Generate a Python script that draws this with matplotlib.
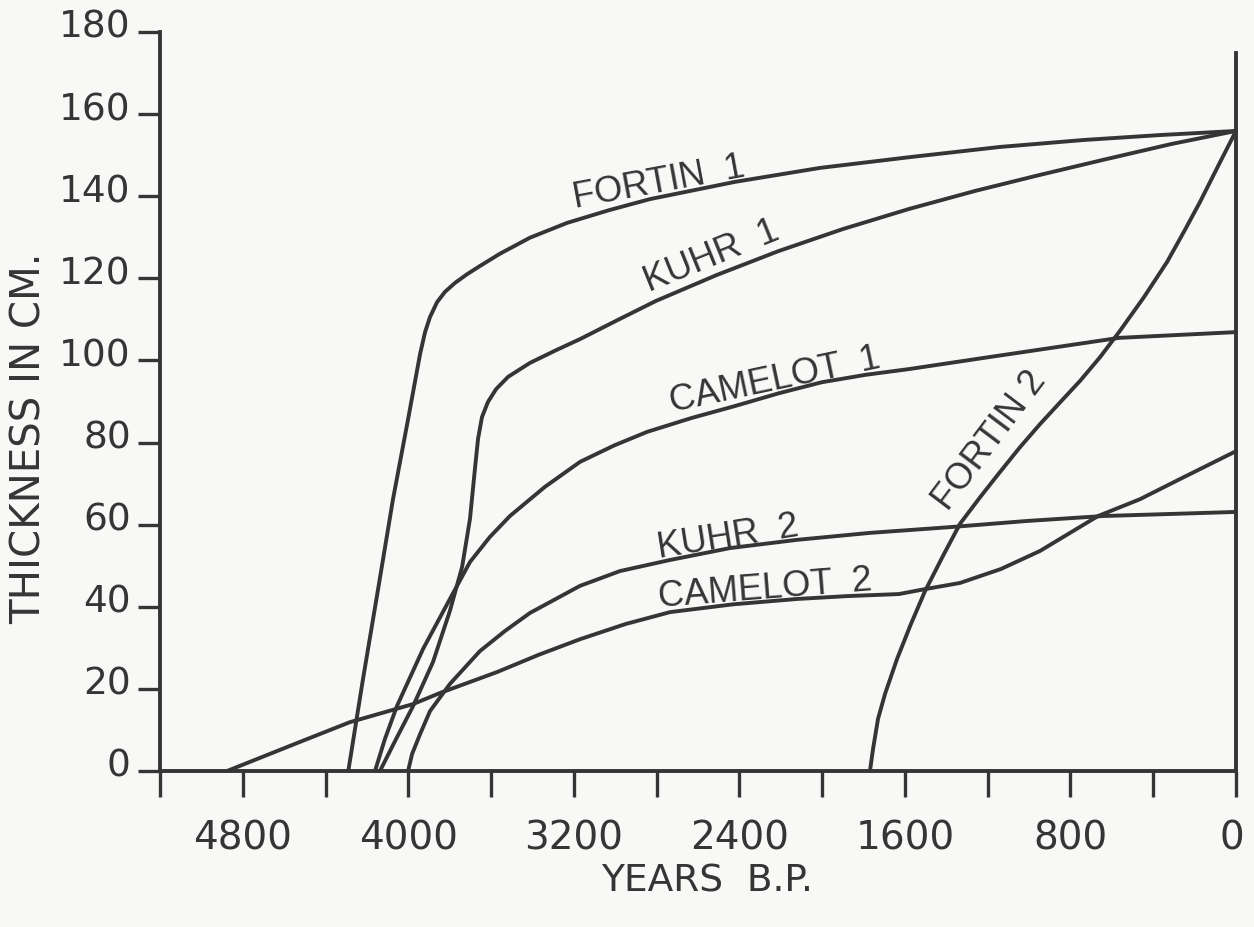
import matplotlib
matplotlib.use("Agg")
import matplotlib.pyplot as plt
import matplotlib.transforms as mtransforms

# thickness (cm) against years B.P.
fortin1_x = [4290, 4219, 4146, 4074, 4001, 3943, 3919, 3895, 3861, 3823, 3774, 3716, 3654, 3557, 3412,
             3233, 3030, 2832, 2421, 2010, 1580, 1141, 735, 367, 0]
fortin1_y = [0, 22.4, 44.3, 66.2, 85.7, 101.6, 106.9, 110.6, 114.2, 116.7, 118.9, 121.0, 123.0, 126.0,
             129.9, 133.5, 136.6, 139.3, 143.5, 146.9, 149.5, 152.0, 153.7, 154.9, 155.9]

kuhr1_x = [4137, 4059, 3977, 3881, 3799, 3740, 3702, 3678, 3663, 3644, 3615, 3576, 3518, 3412,
           3290, 3170, 2990, 2803, 2510, 2213, 1900, 1580, 1260, 947, 630, 314, 0]
kuhr1_y = [0, 7.8, 15.8, 26.5, 39.0, 49.7, 61.4, 73.6, 80.9, 86.2, 89.9, 93.0, 96.0, 99.4,
           102.4, 105.2, 109.8, 114.5, 120.8, 126.6, 132.0, 136.9, 141.3, 145.2, 149.0, 152.7, 155.9]

camelot1_x = [4161, 4113, 4055, 3929, 3799, 3702, 3606, 3509, 3340, 3170, 3005, 2846, 2630, 2421,
              2210, 2001, 1790, 1580, 1155, 565, 0]
camelot1_y = [0, 7.8, 15.8, 29.7, 41.9, 50.9, 57.0, 62.1, 69.2, 75.3, 79.3, 82.6, 86.0, 88.9,
              92.0, 94.7, 96.5, 97.9, 101.1, 105.5, 106.9]

kuhr2_x = [4001, 3982, 3943, 3895, 3799, 3654, 3533, 3412, 3170, 2977, 2735, 2445, 2122, 1769,
           1382, 1010, 643, 0]
kuhr2_y = [0, 4.1, 9.0, 14.6, 21.2, 29.2, 34.1, 38.5, 45.1, 48.7, 51.4, 54.3, 56.3, 58.0,
           59.4, 60.9, 62.1, 63.1]

camelot2_x = [4876, 4523, 4282, 3977, 3847, 3571, 3370, 3170, 2950, 2735, 2430, 2122, 1880, 1629,
              1503, 1334, 1136, 947, 667, 464, 271, 0]
camelot2_y = [0, 7.1, 11.9, 16.3, 19.0, 24.1, 28.3, 32.1, 35.8, 38.7, 40.6, 41.9, 42.6, 43.1,
              44.3, 45.8, 49.2, 53.6, 62.1, 66.2, 71.1, 77.9]

fortin2_x = [1769, 1754, 1730, 1696, 1638, 1571, 1503, 1416, 1334, 1235, 1141, 1045, 947, 850, 754,
             657, 561, 445, 333, 250, 174, 77, 0]
fortin2_y = [0, 5.4, 12.7, 18.8, 27.3, 35.8, 43.8, 52.4, 60.2, 66.8, 72.8, 78.8, 84.5, 89.8, 95.0,
             100.8, 107.2, 115.4, 124.0, 131.5, 138.6, 148.3, 155.9]

# curve names and where they are lettered (x, y, angle)
labels = ["FORTIN  1", "KUHR  1", "CAMELOT  1", "FORTIN 2", "KUHR  2", "CAMELOT  2"]
label_x = [3194, 2837, 2726, 1392, 2788, 2788]
label_y = [137.4, 116.9, 87.7, 63.3, 52.1, 40.2]
label_rot = [10.5, 22, 12, 53, 9, 4.5]

x_ticks = [5200, 4800, 4400, 4000, 3600, 3200, 2800, 2400, 2000, 1600, 1200, 800, 400, 0]
x_tick_labels = ["", "4800", "", "4000", "", "3200", "", "2400", "", "1600", "", "800", "", "0"]
y_ticks = [0, 20, 40, 60, 80, 100, 120, 140, 160, 180]
y_tick_labels = ["0", "20", "40", "60", "80", "100", "120", "140", "160", "180"]

ink = "#353535"
paper = "#f8f8f6"

fig = plt.figure(figsize=(12.54, 9.28), dpi=100, facecolor=paper)
ax = fig.add_axes([160 / 1254, 156 / 928, 1076 / 1254, 739 / 928])
ax.set_facecolor(paper)

for xs, ys in [(fortin1_x, fortin1_y), (kuhr1_x, kuhr1_y), (camelot1_x, camelot1_y),
               (kuhr2_x, kuhr2_y), (camelot2_x, camelot2_y), (fortin2_x, fortin2_y)]:
    ax.plot(xs, ys, color=ink, lw=2.8, solid_joinstyle="round", solid_capstyle="round", clip_on=False)

# vertical line at the present
ax.plot([0, 0], [0, 175], color=ink, lw=2.8, clip_on=False)

for txt, lx, ly, rot in zip(labels, label_x, label_y, label_rot):
    ax.text(lx, ly, txt, rotation=rot, rotation_mode="anchor", ha="left", va="baseline",
            fontsize=26, color=ink, family=["Liberation Sans", "DejaVu Sans"])

ax.set_xlim(5200, 0)
ax.set_ylim(0, 180)
ax.spines["top"].set_visible(False)
ax.spines["right"].set_visible(False)
for s in ["left", "bottom"]:
    ax.spines[s].set_linewidth(2.8)
    ax.spines[s].set_color(ink)

ax.set_xticks(x_ticks)
ax.set_xticklabels(x_tick_labels)
ax.set_yticks(y_ticks)
ax.set_yticklabels(y_tick_labels)
ax.tick_params(axis="x", direction="out", length=19, width=2.4, color=ink, pad=15,
               labelsize=28, labelcolor=ink)
ax.tick_params(axis="y", direction="out", length=16, width=2.4, color=ink, pad=5,
               labelsize=27, labelcolor=ink)
up = mtransforms.ScaledTranslation(0, 9 / 100, fig.dpi_scale_trans)
for lab in ax.get_yticklabels():
    lab.set_transform(lab.get_transform() + up)
left = mtransforms.ScaledTranslation(-4 / 100, 0, fig.dpi_scale_trans)
xlabs = ax.get_xticklabels()
xlabs[-1].set_transform(xlabs[-1].get_transform() + left)

fig.text(30 / 1254, 1 - 438 / 928, "THICKNESS IN CM.", rotation=90, ha="center", va="center",
         fontsize=29, color=ink)
fig.text(707 / 1254, 1 - 882 / 928, "YEARS  B.P.", ha="center", va="center",
         fontsize=27, color=ink)

fig.savefig("out.png", dpi=100, facecolor=paper)
